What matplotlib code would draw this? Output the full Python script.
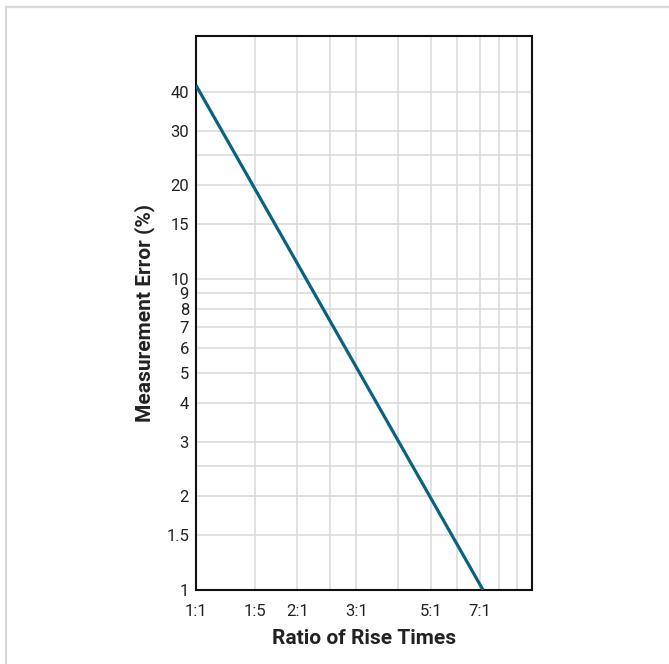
import matplotlib
matplotlib.use("Agg")
import matplotlib.pyplot as plt
from matplotlib.lines import Line2D
from matplotlib.ticker import FixedLocator, NullLocator, FixedFormatter

plt.rcParams['font.family'] = ['Roboto', 'DejaVu Sans']

# Data
ratio = [1.0, 7.15]
error_pct = [42.0, 1.0]

x_ticks = [1, 1.5, 2, 3, 5, 7]
x_tick_labels = ["1:1", "1:5", "2:1", "3:1", "5:1", "7:1"]
x_grid = [1.5, 2, 2.5, 3, 4, 5, 6, 7, 8, 9]

y_ticks = [1, 1.5, 2, 3, 4, 5, 6, 7, 8, 9, 10, 15, 20, 30, 40]
y_tick_labels = ["1", "1.5", "2", "3", "4", "5", "6", "7", "8", "9", "10", "15", "20", "30", "40"]
y_grid = [1.5, 2, 2.5, 3, 4, 5, 6, 7, 8, 9, 10, 15, 20, 25, 30, 40]

fig = plt.figure(figsize=(6.69, 6.64), dpi=100)
ax = fig.add_axes([196/669, 1-590/664, (532-196)/669, (590-36)/664])

ax.set_xscale('log')
ax.set_yscale('log')
ax.set_xlim(1, 10)
ax.set_ylim(1, 60.5)

for gx in x_grid:
    ax.axvline(gx, color='#d9d9d9', lw=1.1, zorder=1)
for gy in y_grid:
    ax.axhline(gy, color='#d9d9d9', lw=1.1, zorder=1)

ax.plot(ratio, error_pct, color='#0b6280', lw=2.3, zorder=3, solid_capstyle='butt')

ax.xaxis.set_major_locator(FixedLocator(x_ticks))
ax.xaxis.set_major_formatter(FixedFormatter(x_tick_labels))
ax.xaxis.set_minor_locator(NullLocator())
ax.yaxis.set_major_locator(FixedLocator(y_ticks))
ax.yaxis.set_major_formatter(FixedFormatter(y_tick_labels))
ax.yaxis.set_minor_locator(NullLocator())

ax.tick_params(axis='both', length=0, labelsize=12, colors='#222222')
ax.tick_params(axis='x', pad=10)
ax.tick_params(axis='y', pad=5)

for s in ax.spines.values():
    s.set_color('#111111')
    s.set_linewidth(1.5)

ax.set_xlabel("Ratio of Rise Times", fontsize=15, fontweight='bold', color='#222222', labelpad=7)
ax.set_ylabel("Measurement Error (%)", fontsize=15, fontweight='bold', color='#222222', labelpad=8)

# outer light frame (top and left)
fig.add_artist(Line2D([6/669, 1], [1-7/664, 1-7/664], transform=fig.transFigure, color='#d8d8d8', lw=1.6))
fig.add_artist(Line2D([6.5/669, 6.5/669], [0, 1-7/664], transform=fig.transFigure, color='#d8d8d8', lw=1.6))

fig.savefig("out.png", dpi=100)
